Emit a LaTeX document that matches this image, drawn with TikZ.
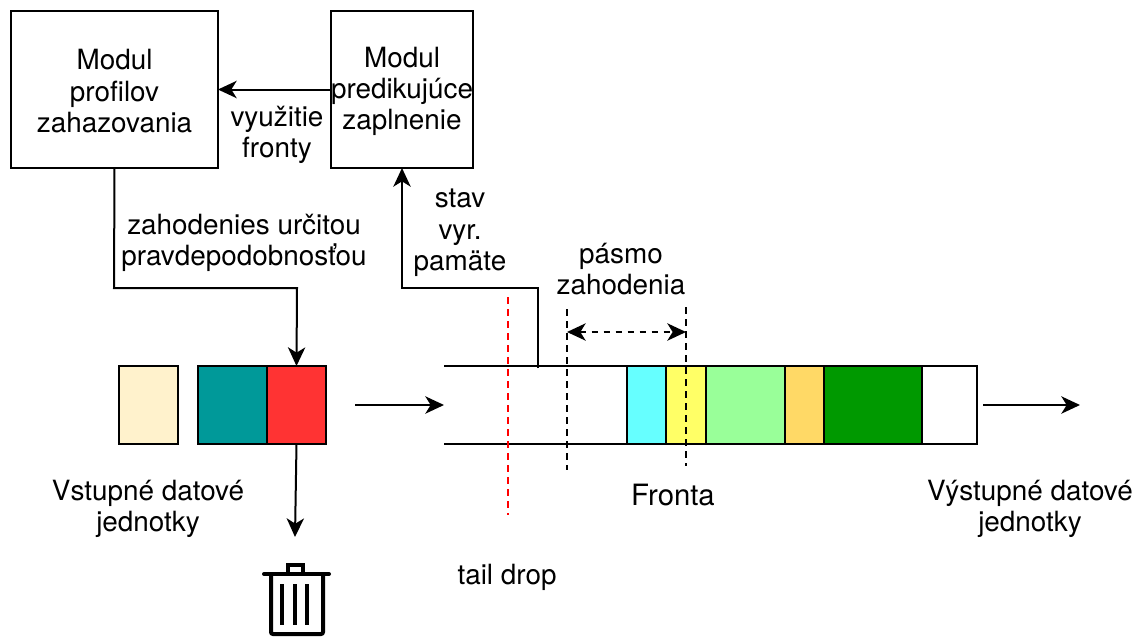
\documentclass[tikz,border=0pt]{standalone}
\usepackage{fontspec}
\setmainfont{TeX Gyre Heros}
\usetikzlibrary{arrows.meta}
\tikzset{
	modul/.style={draw, line width=1.5pt, inner sep=0pt, outer sep=0pt, align=center},
	packet/.style={draw, line width=1.5pt, inner sep=0pt, outer sep=0pt, minimum height=58.5pt},
	label/.style={inner sep=0pt, align=center},
	conn/.style={line width=1.5pt, -{Stealth[length=14pt, width=13pt, inset=4pt]}},
	both/.style={line width=1.5pt, dash pattern=on 5pt off 4pt, {Stealth[length=14pt, width=13pt, inset=4pt]}-{Stealth[length=14pt, width=13pt, inset=4pt]}},
	cut/.style={line width=1.5pt, dash pattern=on 5pt off 4pt},
}
\definecolor{cream}{RGB}{255,242,204}
\definecolor{tealcell}{RGB}{0,153,153}
\definecolor{redcell}{RGB}{255,51,51}
\definecolor{cyancell}{RGB}{102,255,255}
\definecolor{yellowcell}{RGB}{255,255,102}
\definecolor{greencell}{RGB}{153,255,153}
\definecolor{orangecell}{RGB}{255,217,102}
\definecolor{darkcell}{RGB}{0,153,0}
\begin{document}
\begin{tikzpicture}[x=0.75pt, y=-0.75pt, font=\fontsize{20.9}{23.6}\selectfont]
	\useasboundingbox (0,0) rectangle (1139,637);
	% horne moduly
	\node[modul, minimum width=155.25pt, minimum height=117.75pt] (profil) at (114.5,89.5) {\rule{0pt}{18pt}Modul\\profilov\\zahazovania};
	\node[modul, minimum width=106.5pt, minimum height=117.75pt] (predik) at (402,89.5) {\rule{0pt}{18pt}Modul\\predikujúce\\zaplnenie};
	\draw[conn] (predik.west) -- (profil.east);
	\node[label] (vyuz) at (277,135) {využitie\\fronty};

	% vstupne jednotky
	\node[packet, fill=cream, minimum width=44.25pt] (vstup) at (148.5,405) {};
	\node[packet, fill=tealcell, minimum width=51.75pt] (teal) at (232.5,405) {};
	\node[packet, fill=redcell, minimum width=44.25pt] (red) at (296.5,405) {};
	\draw[conn] (profil.south) -- (114,288) -- (297,288) -- (red.north);
	\node[label] (zahod) at (244,243) {zahodenies určitou\\pravdepodobnosťou};
	\node[label] (vstlab) at (148,509) {Vstupné datové\\jednotky};

	% kos
	\coordinate (kos) at (295,537);
	\draw[conn] (red.south) -- (kos);
	\draw[line width=3pt, rounded corners=1.5pt] (271,574) -- (271,634) -- (323,634) -- (323,574);
	\draw[line width=3pt, line cap=round] (264,574) -- (329,574);
	\draw[line width=3pt] (288,574) -- (288,564.5) -- (303,564.5) -- (303,574);
	\foreach \kx in {282,295,307}
		\draw[line width=3.5pt] (\kx,584) -- (\kx,625);

	% fronta
	\coordinate (frontaL) at (444,366);
	\coordinate (frontaD) at (444,444);
	\node[packet, fill=cyancell, minimum width=29.25pt] (c1) at (646.5,405) {};
	\node[packet, fill=yellowcell, minimum width=30pt] (c2) at (686,405) {};
	\node[packet, fill=greencell, minimum width=59.25pt] (c3) at (745.5,405) {};
	\node[packet, fill=orangecell, minimum width=29.25pt] (c4) at (804.5,405) {};
	\node[packet, fill=darkcell, minimum width=73.5pt] (c5) at (873,405) {};
	\node[packet, minimum width=41.25pt] (c6) at (949.5,405) {};
	\draw[line width=1.5pt] (frontaL) -- (c1.north west);
	\draw[line width=1.5pt] (frontaD) -- (c1.south west);

	\coordinate (vstupA) at (355,405);
	\draw[conn] (vstupA) -- (frontaL |- vstupA);
	\coordinate (vystupA) at (983,405);
	\coordinate (vystupB) at (1080,405);
	\draw[conn] (vystupA) -- (vystupB);

	% stav pamate
	\coordinate (stav) at (538,368);
	\draw[conn] (stav) -- (538,288) -- (402,288) -- (predik.south);
	\node[label] (stavlab) at (460,233) {stav\\vyr.\\pamäte};

	% ciarkovane
	\draw[cut, red] (508,297) -- (508,515);
	\draw[cut] (567,309) -- (567,470);
	\draw[cut] (686,307) -- (686,466);
	\coordinate (pasmoL) at (567,332);
	\coordinate (pasmoR) at (686,332);
	\draw[both] (pasmoL) -- (pasmoR);
	\node[label] (pasmo) at (621,269) {pásmo\\zahodenia};

	\node[label, font=\fontsize{22}{26}\selectfont] (fronta) at (673,495) {Fronta};
	\node[label] (vyst) at (1030,509) {Výstupné datové\\jednotky};
	\node[label] (tail) at (507,577) {tail drop};
\end{tikzpicture}
\end{document}
